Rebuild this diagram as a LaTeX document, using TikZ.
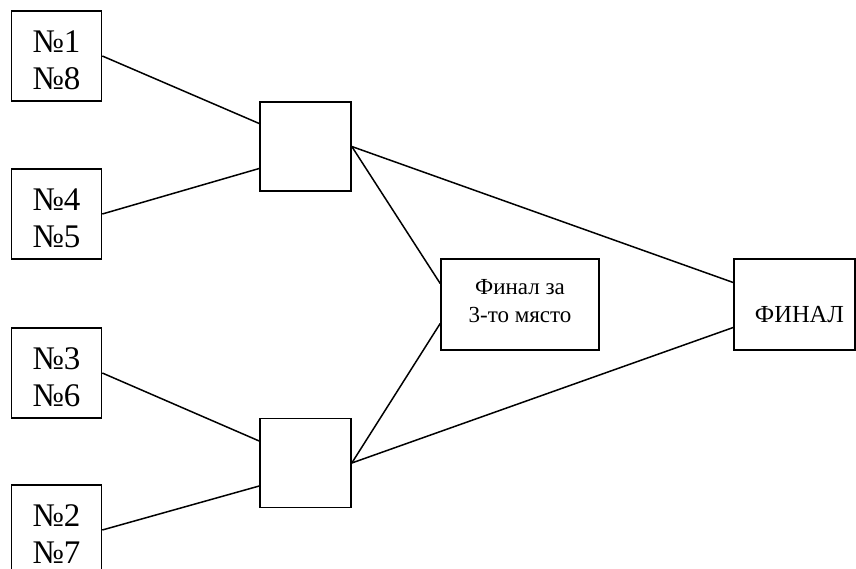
\documentclass[tikz,border=0pt]{standalone}
\usepackage{fontspec}
\setmainfont{Liberation Serif}
\usetikzlibrary{calc}
\begin{document}
\begin{tikzpicture}[x=1pt,y=-1pt,
  box/.style={draw=black,line width=1.6pt,inner sep=0pt,fill=white},
  team/.style={box,minimum width=90pt,minimum height=90pt},
  semi/.style={box,minimum width=91pt,minimum height=89pt},
  big/.style={font=\fontsize{33}{37}\selectfont,align=center,inner sep=0pt},
  small/.style={font=\fontsize{23}{28}\selectfont,align=center,inner sep=0pt},
  conn/.style={line width=1.5pt}]
\useasboundingbox (0,0) rectangle (856,569);
\node[team] (b1) at (56.5,56) {};
\node[team] (b2) at (56.5,214) {};
\node[team] (b3) at (56.5,373) {};
\node[team] (b4) at (56.5,530) {};
\node[semi] (m1) at (305.5,146.5) {};
\node[semi] (m2) at (305.5,463) {};
\node[box,minimum width=158pt,minimum height=91pt] (t) at (520,304.5) {};
\node[box,minimum width=121pt,minimum height=91pt] (f) at (794.5,304.5) {};
\node[big] (l1) at ($(b1.center)+(0,4)$) {№1\\№8};
\node[big] (l2) at ($(b2.center)+(0,4)$) {№4\\№5};
\node[big] (l3) at ($(b3.center)+(0,4)$) {№3\\№6};
\node[big] (l4) at ($(b4.center)+(0,4)$) {№2\\№7};
\node[small] (lt) at ($(t.center)+(0,-3)$) {Финал за\\3-то място};
\node[small,font=\fontsize{24.5}{28}\selectfont] (lf) at ($(f.center)+(5,10)$) {ФИНАЛ};
\draw[conn] (b1.east) -- ($(m1.west)+(0,-23)$);
\draw[conn] (b2.east) -- ($(m1.west)+(0,22)$);
\draw[conn] (b3.east) -- ($(m2.west)+(0,-22)$);
\draw[conn] (b4.east) -- ($(m2.west)+(0,23)$);
\draw[conn] (m1.east) -- ($(t.west)+(0,-21)$);
\draw[conn] (m1.east) -- ($(f.west)+(0,-22)$);
\draw[conn] (m2.east) -- ($(t.west)+(0,19)$);
\draw[conn] (m2.east) -- ($(f.west)+(0,23)$);
\end{tikzpicture}
\end{document}
